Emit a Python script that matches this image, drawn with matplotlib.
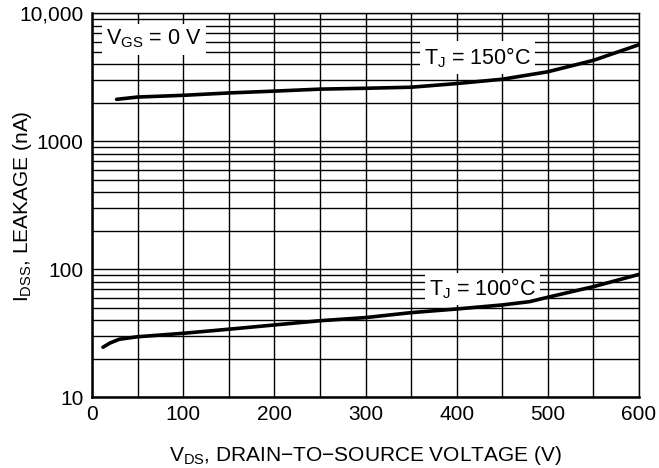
import numpy as np
import matplotlib
matplotlib.use("Agg")
import matplotlib.pyplot as plt
from matplotlib.ticker import FixedLocator, FixedFormatter, LogLocator, NullFormatter

plt.rcParams['font.family'] = ['Liberation Sans', 'DejaVu Sans']
plt.rcParams['mathtext.default'] = 'regular'

# data
vds_150 = [27, 50, 100, 150, 200, 250, 300, 350, 400, 450, 500, 550, 600]
idss_150 = [2130, 2220, 2290, 2390, 2470, 2560, 2600, 2650, 2830, 3060, 3500, 4300, 5700]

vds_100 = [12, 20, 30, 50, 100, 150, 200, 250, 300, 350, 400, 450, 480, 500, 550, 600]
idss_100 = [24.5, 26.5, 28.3, 29.6, 31.5, 33.9, 36.6, 39.5, 41.8, 45.7, 48.8, 52.5, 55.7, 60.3, 73, 91]

y_ticks = [10, 100, 1000, 10000]
y_tick_labels = ['10', '100', '1000', '10,000']
x_ticks = [0, 100, 200, 300, 400, 500, 600]

fig = plt.figure(figsize=(6.59, 4.68), dpi=100)
ax = fig.add_axes([0.1396, 0.1517, 0.8301, 0.8195])

ax.set_yscale('log')
ax.set_xlim(0, 600)
ax.set_ylim(10, 10000)

# grid
ax.xaxis.set_minor_locator(FixedLocator(np.arange(50, 600, 100)))
ax.yaxis.set_minor_locator(LogLocator(base=10, subs=np.arange(2, 10)))
ax.yaxis.set_minor_formatter(NullFormatter())
ax.grid(True, which='both', color='black', lw=1.0)
ax.set_axisbelow(True)

ax.plot(vds_150, idss_150, color='black', lw=2.6, solid_capstyle='round', zorder=5)
ax.plot(vds_100, idss_100, color='black', lw=2.6, solid_capstyle='round', zorder=5)

ax.set_xticks(x_ticks)
ax.yaxis.set_major_locator(FixedLocator(y_ticks))
ax.yaxis.set_major_formatter(FixedFormatter(y_tick_labels))
ax.tick_params(which='both', length=0, labelsize=15, pad=6)

for s in ['left', 'bottom']:
    ax.spines[s].set_linewidth(1.8)
for s in ['top', 'right']:
    ax.spines[s].set_linewidth(1.0)

box = dict(facecolor='white', edgecolor='none', pad=3)
ax.text(68, 6300, r'V$_{GS}$ = 0 V', fontsize=15.5, ha='center', va='center', bbox=box, zorder=4)
ax.text(423, 4500, r'T$_J$ = 150°C', fontsize=15.5, ha='center', va='center', bbox=box, zorder=4)
ax.text(428, 70, r'T$_J$ = 100°C', fontsize=15.5, ha='center', va='center', bbox=box, zorder=4)

ax.set_xlabel('V$_{DS}$, DRAIN\u2212TO\u2212SOURCE VOLTAGE (V)', fontsize=15, labelpad=14)
fig.text(23 / 659, 1 - 206 / 468, 'I$_{DSS}$, LEAKAGE (nA)', fontsize=15,
         rotation=90, ha='center', va='center')

plt.savefig('out.png', dpi=100)
